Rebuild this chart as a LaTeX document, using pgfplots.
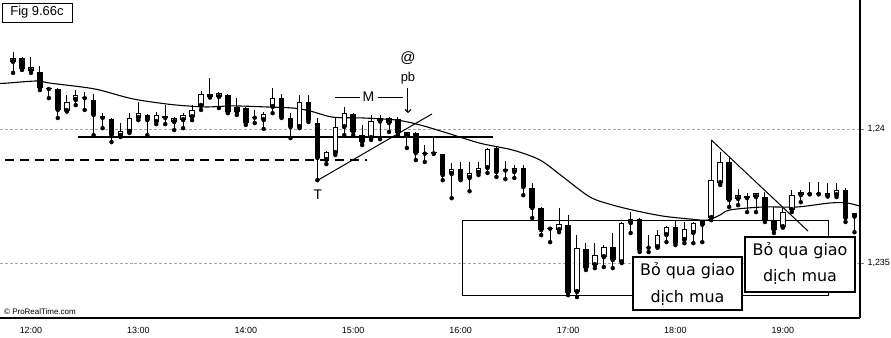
\documentclass[border=0pt]{standalone}
\usepackage{pgfplots}
\pgfplotsset{compat=1.18}
\usepackage{pgfplotstable}
\usetikzlibrary{arrows.meta}
\usepackage{fontspec}
\setmainfont{Liberation Sans}
\newfontfamily\notefont{DejaVu Sans}

% 5-minute candles, t = minutes after 12:00, prices in pips (12400 = 1,24)
% rising candles (hollow)
\pgfplotstableread{
t o h l c
-10 12425.0 12428.7 12420.9 12426.5
0 12421.6 12426.8 12420.9 12423.1
20 12406.7 12412.7 12406.5 12410.0
25 12410.8 12414.5 12408.9 12412.7
50 12397.4 12402.2 12397.0 12399.2
55 12398.9 12405.9 12398.5 12404.1
60 12404.1 12410.0 12403.3 12405.9
70 12402.6 12406.3 12401.8 12405.2
80 12402.6 12404.3 12399.6 12404.1
85 12403.3 12405.9 12400.3 12405.2
90 12404.4 12408.9 12403.3 12407.1
95 12408.6 12414.2 12407.1 12413.0
105 12411.9 12413.8 12407.8 12413.4
130 12403.3 12406.3 12400.0 12405.6
135 12408.2 12415.3 12405.9 12411.5
150 12400.7 12412.7 12400.3 12410.0
165 12388.4 12391.6 12386.9 12391.4
170 12391.0 12404.1 12390.3 12400.7
175 12400.7 12408.2 12397.7 12405.9
190 12396.6 12405.2 12395.9 12403.0
195 12402.8 12405.2 12396.2 12404.1
210 12397.5 12398.9 12392.9 12398.9
235 12383.2 12387.3 12374.2 12385.0
245 12381.7 12387.7 12376.8 12383.6
250 12383.6 12387.7 12382.8 12385.4
255 12385.4 12392.9 12383.6 12392.5
270 12383.9 12386.5 12381.7 12385.4
295 12362.3 12370.5 12361.5 12364.5
305 12339.2 12360.4 12337.3 12355.6
315 12349.2 12357.4 12348.1 12353.0
320 12352.2 12356.7 12348.5 12355.9
330 12350.3 12365.3 12350.0 12364.9
335 12364.9 12369.0 12361.2 12366.4
350 12355.9 12362.3 12355.7 12360.4
355 12360.4 12363.8 12357.8 12363.4
365 12358.6 12365.3 12357.4 12362.7
370 12361.2 12365.3 12357.4 12364.9
375 12364.3 12365.8 12357.8 12365.6
380 12366.8 12395.9 12366.0 12380.9
385 12379.8 12391.4 12379.1 12387.7
395 12373.9 12377.6 12371.6 12375.3
405 12374.6 12376.3 12369.0 12376.1
420 12363.4 12370.5 12363.2 12369.0
425 12369.8 12377.2 12369.0 12375.3
430 12375.3 12377.2 12372.7 12376.5
450 12375.3 12379.8 12374.6 12377.2
460 12367.3 12368.8 12361.5 12368.6
}\bull
% falling candles (filled)
\pgfplotstableread{
t o h l c
-5 12426.5 12426.8 12422.0 12422.4
5 12421.2 12423.5 12414.5 12415.3
10 12415.3 12415.5 12411.5 12414.9
15 12414.9 12415.3 12404.1 12407.1
30 12411.9 12413.8 12407.1 12411.5
35 12410.8 12413.0 12397.7 12405.2
40 12404.8 12405.9 12400.3 12404.1
45 12403.7 12404.1 12395.1 12397.7
65 12405.2 12405.4 12397.7 12403.3
75 12404.8 12408.9 12401.8 12404.1
100 12413.0 12419.0 12411.7 12411.9
110 12412.7 12413.0 12405.9 12406.3
115 12408.2 12411.5 12405.2 12406.3
120 12407.8 12408.2 12401.5 12402.2
125 12404.6 12407.1 12402.2 12404.2
140 12411.5 12413.0 12404.1 12404.4
145 12404.1 12405.9 12396.6 12400.7
155 12410.0 12412.7 12402.6 12403.3
160 12402.2 12404.1 12380.9 12389.2
180 12405.6 12405.9 12397.7 12398.9
185 12397.7 12401.5 12394.0 12395.1
200 12404.1 12404.3 12398.9 12402.2
205 12403.7 12404.4 12397.7 12398.5
215 12398.5 12398.9 12388.4 12391.0
220 12391.2 12394.0 12387.7 12390.8
225 12391.3 12397.4 12390.7 12390.9
230 12390.6 12390.8 12380.9 12382.8
240 12385.0 12387.7 12380.9 12381.3
260 12392.9 12393.3 12382.1 12383.9
265 12384.9 12388.0 12381.3 12384.5
275 12385.4 12386.5 12375.3 12378.3
280 12378.0 12379.8 12366.8 12370.5
285 12370.5 12370.9 12360.4 12362.3
290 12363.2 12363.4 12357.8 12362.8
300 12364.2 12367.9 12338.0 12338.8
310 12355.2 12357.4 12347.4 12348.1
325 12355.9 12361.2 12348.1 12351.1
340 12366.4 12366.8 12354.1 12354.8
345 12356.1 12360.4 12354.1 12355.7
360 12363.4 12366.0 12356.7 12357.4
390 12387.7 12389.2 12370.9 12373.5
400 12375.0 12376.1 12369.0 12374.2
410 12374.6 12376.5 12365.3 12366.0
415 12366.0 12370.9 12361.2 12362.3
435 12376.3 12380.2 12375.6 12375.8
440 12376.3 12380.2 12375.6 12375.8
445 12376.1 12379.8 12374.8 12375.0
455 12377.2 12378.0 12365.3 12366.8
}\bear

\begin{document}
\begin{tikzpicture}
\useasboundingbox (0bp,0bp) rectangle (891bp,338bp);
\begin{axis}[
  at={(0bp,20bp)}, anchor=south west,
  width=860bp, height=318bp, scale only axis,
  xmin=-17.3, xmax=463.1, ymin=12329.5, ymax=12448.1,
  axis x line*=bottom, axis y line*=right,
  axis line style={-, line width=1.1bp},
  xtick={0,60,...,420},
  xticklabels={12:00,13:00,14:00,15:00,16:00,17:00,18:00,19:00},
  ytick={12350,12400}, yticklabels={{1,235},{1,24}},
  ymajorgrids, grid style={densely dashed, black!35, line width=0.5bp},
  tick label style={font=\fontsize{9}{10}\selectfont},
  x tick label style={yshift=-2bp},
  xtick style={draw=none},
  ytick style={line width=0.8bp}, tick align=outside, major tick length=4bp,
  clip=false,
  every error bar/.append style={black},
]
% moving average
\addplot[black, line width=1.1bp, smooth, tension=0.5] coordinates {
(-17.3,12417.0) (-13.4,12417.1) (3.4,12417.9) (10.6,12417.1) (29.1,12415.6)
(38.5,12414.5) (57.0,12411.2) (76.0,12409.3) (87.2,12408.6) (98.3,12408.2)
(112.8,12408.6) (131.8,12408.2) (146.4,12407.8) (155.9,12406.7) (168.7,12404.4)
(185.5,12404.1) (204.5,12403.3) (217.3,12401.5) (232.4,12398.5) (250.8,12394.7)
(269.3,12392.1) (284.4,12388.4) (297.2,12382.1) (312.3,12374.6) (325.1,12371.6)
(338.5,12369.4) (353.1,12367.5) (368.2,12366.4) (377.7,12366.0) (384.9,12367.9)
(390.5,12369.8) (408.9,12370.9) (427.9,12370.9) (446.4,12372.4) (455.9,12372.4)
(463.1,12371.2)};

% annotation lines
\draw[line width=1.4bp] (axis cs:26.3,12397.0) -- (axis cs:258,12397.0);
\draw[line width=1.3bp, dash pattern=on 9bp off 6bp] (axis cs:-14.5,12388.4) -- (axis cs:187.7,12388.4);
\draw[line width=1bp] (axis cs:160.3,12380.9) -- (axis cs:224.0,12405.6);
\draw[line width=1bp] (axis cs:380,12395.9) -- (axis cs:434.1,12361.9);
\draw[line width=1bp] (axis cs:241.3,12338.0) rectangle (axis cs:445.3,12366.0);

% wicks
\addplot[only marks, mark=none, error bars/.cd, y dir=plus, y explicit, error mark=none,
  error bar style={draw=black, line width=1bp}]
  table[x=t, y=l, y error expr=\thisrow{h}-\thisrow{l}] {\bull};
\addplot[only marks, mark=none, error bars/.cd, y dir=plus, y explicit, error mark=none,
  error bar style={draw=black, line width=1bp}]
  table[x=t, y=l, y error expr=\thisrow{h}-\thisrow{l}] {\bear};
% bodies
\addplot[only marks, mark=none, error bars/.cd, y dir=plus, y explicit, error mark=none,
  error bar style={draw=black, line width=5.5bp}]
  table[x=t, y=c, y error expr=\thisrow{o}-\thisrow{c}] {\bear};
\addplot[only marks, mark=none, error bars/.cd, y dir=plus, y explicit, error mark=none,
  error bar style={draw=black, line width=5.5bp}]
  table[x=t, y=o, y error expr=\thisrow{c}-\thisrow{o}] {\bull};
\addplot[only marks, mark=none, error bars/.cd, y dir=plus, y explicit, error mark=none,
  error bar style={draw=white, line width=3.5bp}]
  table[x=t, y expr=\thisrow{o}+0.35, y error expr=\thisrow{c}-\thisrow{o}-0.7] {\bull};

% text marks
\node[font=\fontsize{14}{14}\selectfont] at (axis cs:160.3,12375.3) {T};
\draw[line width=1bp] (axis cs:169.8,12411.9) -- (axis cs:183.8,12411.9);
\draw[line width=1bp] (axis cs:193.9,12411.9) -- (axis cs:207.8,12411.9);
\node[font=\fontsize{14}{14}\selectfont] at (axis cs:188.5,12411.9) {M};
\node[font=\fontsize{15}{15}\selectfont] at (axis cs:210.6,12426.5) {@};
\node[font=\fontsize{13}{13}\selectfont] at (axis cs:210.6,12419.0) {pb};
\draw[line width=1bp, -{Straight Barb[length=3bp,width=6bp]}] (axis cs:210.6,12415.3) -- (axis cs:210.6,12405.9);
\end{axis}

% figure tag and source
\draw[line width=0.8bp] (2bp,316bp) rectangle (72bp,335bp);
\node[font=\fontsize{13}{13}\selectfont] at (37bp,325.5bp) {Fig 9.66c};
\node[anchor=west, inner sep=0pt, font=\fontsize{8}{8}\selectfont] at (4bp,26bp) {© ProRealTime.com};

% labels
\draw[line width=1.1bp, fill=white] (633bp,28bp) rectangle (742bp,81bp);
\node[anchor=base, inner sep=0pt, font=\notefont\fontsize{16}{16}\selectfont] at (687.5bp,62bp) {Bỏ qua giao};
\node[anchor=base, inner sep=0pt, font=\notefont\fontsize{16}{16}\selectfont] at (687.5bp,36bp) {dịch mua};
\draw[line width=1.1bp, fill=white] (745bp,46bp) rectangle (855bp,101bp);
\node[anchor=base, inner sep=0pt, font=\notefont\fontsize{16}{16}\selectfont] at (800bp,82bp) {Bỏ qua giao};
\node[anchor=base, inner sep=0pt, font=\notefont\fontsize{16}{16}\selectfont] at (800bp,56bp) {dịch mua};
\end{tikzpicture}
\end{document}
